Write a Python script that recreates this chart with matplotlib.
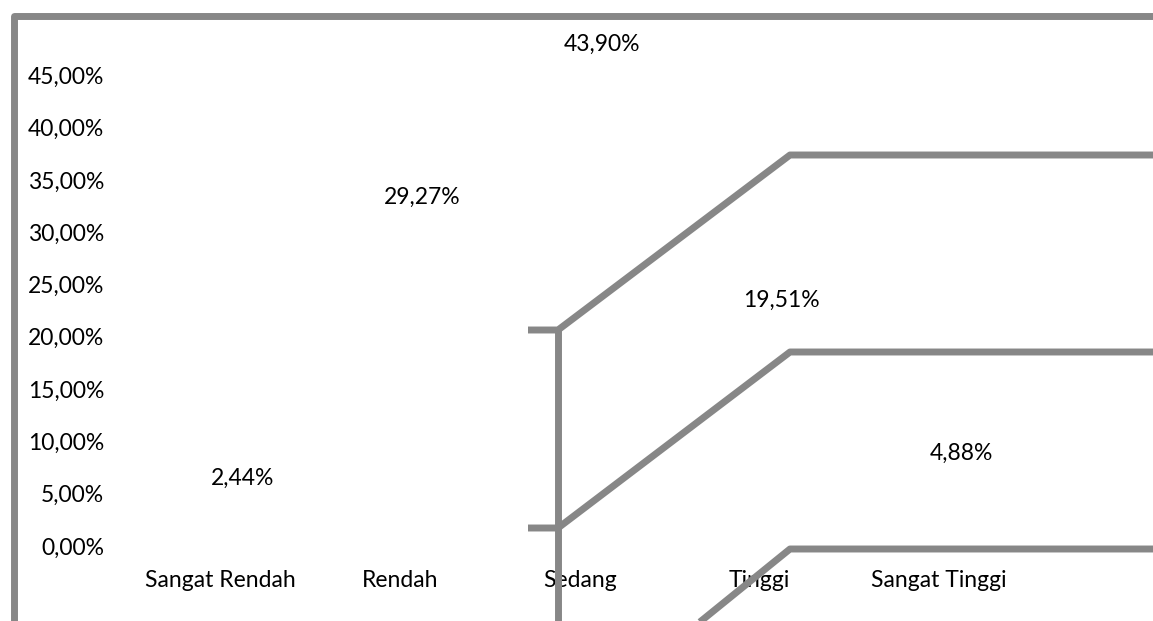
import numpy as np
import matplotlib.pyplot as plt
from matplotlib.lines import Line2D

# Data
categories = ['Sangat Rendah', 'Rendah', 'Sedang', 'Tinggi', 'Sangat Tinggi']
values = [2.44, 29.27, 43.90, 19.51, 4.88]
value_labels = ['2,44%', '29,27%', '43,90%', '19,51%', '4,88%']
yticks = [0, 5, 10, 15, 20, 25, 30, 35, 40, 45]
ytick_labels = ['0,00%', '5,00%', '10,00%', '15,00%', '20,00%', '25,00%',
                '30,00%', '35,00%', '40,00%', '45,00%']

W, H = 1153, 621
gray = '#878787'
fs = 16.5
plt.rcParams['font.family'] = ['Lato', 'DejaVu Sans']

fig = plt.figure(figsize=(W / 100, H / 100), dpi=100)

# Axes placed in pixel space
left_px, right_px = 130.6, 1029.0
bottom_px, top_px = 546.0, 23.0
ax = fig.add_axes([left_px / W, (H - bottom_px) / H,
                   (right_px - left_px) / W, (bottom_px - top_px) / H])

x = np.arange(len(categories))
ax.bar(x, values, width=0.6, color='none')

for xi, v, lab in zip(x, values, value_labels):
    ax.annotate(lab, (xi, v), xytext=(22, 42), textcoords='offset pixels',
                ha='center', va='center', fontsize=fs, color='black')

ax.set_xlim(-0.5, 4.5)
ax.set_ylim(0, 50)
ax.set_xticks(x)
ax.set_xticklabels(categories, fontsize=fs)
ax.set_yticks(yticks)
ax.set_yticklabels(ytick_labels, fontsize=fs)
ax.tick_params(length=0)
ax.tick_params(axis='y', pad=19)
ax.tick_params(axis='x', pad=17)
for s in ax.spines.values():
    s.set_visible(False)


# Decorative gray frame and wall lines (pixel coordinates, top-left origin)
def px_line(pts, **kw):
    xs = [p[0] / W for p in pts]
    ys = [(H - p[1]) / H for p in pts]
    fig.add_artist(Line2D(xs, ys, transform=fig.transFigure, color=gray,
                          lw=5.0, solid_joinstyle='round',
                          solid_capstyle='butt', **kw))


px_line([(14, 630), (14, 15.5), (1160, 15.5)])
px_line([(528, 330), (558, 330), (790, 155), (1160, 155)])
px_line([(528, 528), (558, 528), (790, 352), (1160, 352)])
px_line([(558, 330), (558, 630)])
px_line([(690, 630), (790, 549), (1160, 549)])

fig.savefig('out.png', dpi=100)
